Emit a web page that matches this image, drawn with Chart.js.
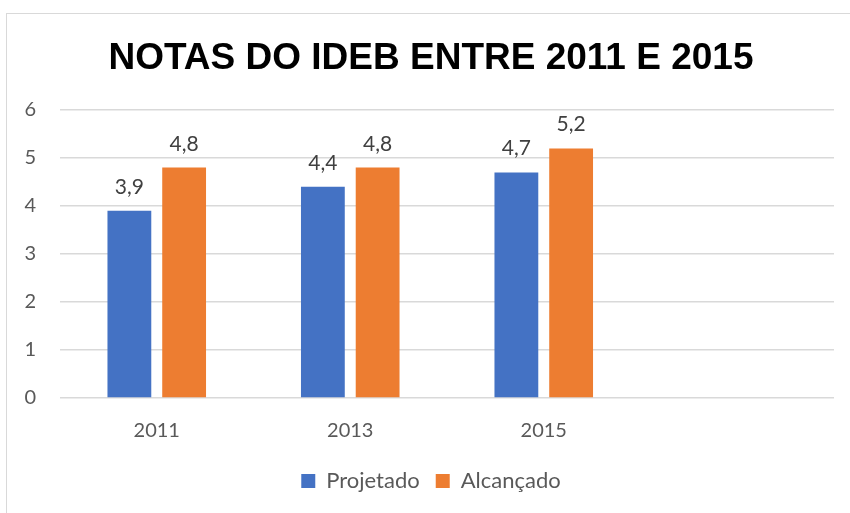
<!DOCTYPE html>
<html>
<head>
<meta charset="utf-8">
<script src="https://cdn.jsdelivr.net/npm/chart.js@4"></script>
<style>
    html, body { margin: 0; padding: 0; background: #fff; }
    #wrap { position: relative; width: 850px; height: 513px; overflow: hidden; }
    #frame { position: absolute; left: 6px; top: 13px; width: 900px; height: 600px; border-left: 1px solid #d9d9d9; border-top: 1px solid #d9d9d9; }
    #chart { position: absolute; left: 0; top: 0; }
</style>
</head>
<body>
<div id="wrap">
    <div id="frame"></div>
    <canvas id="chart" width="850" height="513"></canvas>
</div>
<script>
const TITLE = 'NOTAS DO IDEB ENTRE 2011 E 2015';
const categories = ['2011', '2013', '2015', ''];
const projetado = [3.9, 4.4, 4.7, null];
const alcancado = [4.8, 4.8, 5.2, null];
const yTicks = [0, 1, 2, 3, 4, 5, 6];

const TEXT_COLOR = '#595959';
const BODY_FONT = 'Lato, "Liberation Sans", sans-serif';

// value labels above the bars, with a comma as decimal mark
const valueLabels = {
    id: 'valueLabels',
    afterDatasetsDraw(chart) {
        const ctx = chart.ctx;
        ctx.save();
        ctx.font = '21px ' + BODY_FONT;
        ctx.fillStyle = '#404040';
        ctx.textAlign = 'center';
        ctx.textBaseline = 'alphabetic';
        chart.data.datasets.forEach((ds, i) => {
            chart.getDatasetMeta(i).data.forEach((bar, j) => {
                const v = ds.data[j];
                if (v === null || v === undefined) {
                    return;
                }
                ctx.fillText(v.toFixed(1).replace('.', ','), bar.x, bar.y - 17);
            });
        });
        ctx.restore();
    }
};

new Chart(document.getElementById('chart').getContext('2d'), {
    type: 'bar',
    data: {
        labels: categories,
        datasets: [
            { label: 'Projetado', data: projetado, backgroundColor: '#4472C4', categoryPercentage: 0.566, barPercentage: 0.8 },
            { label: 'Alcançado', data: alcancado, backgroundColor: '#ED7D31', categoryPercentage: 0.566, barPercentage: 0.8 }
        ]
    },
    options: {
        responsive: false,
        animation: false,
        layout: { padding: { left: 14, right: 2, top: 0, bottom: 11 } },
        plugins: {
            title: {
                display: true,
                text: TITLE,
                color: '#000',
                font: { family: '"Liberation Sans", Arial, sans-serif', size: 37, weight: 'bold', lineHeight: 1.0 },
                padding: { top: 40, bottom: 33 }
            },
            legend: {
                position: 'bottom',
                labels: {
                    color: TEXT_COLOR,
                    font: { family: BODY_FONT, size: 22 },
                    boxWidth: 14,
                    boxHeight: 14,
                    padding: 16
                }
            },
            tooltip: { enabled: false }
        },
        scales: {
            x: {
                afterFit(axis) {
                    axis.height = axis.height - 10;
                },
                grid: { display: false, drawTicks: false },
                border: { display: false },
                ticks: { color: TEXT_COLOR, font: { family: BODY_FONT, size: 20 }, padding: 21 }
            },
            y: {
                min: 0,
                max: 6,
                afterBuildTicks(axis) {
                    axis.ticks = yTicks.map((v) => ({ value: v }));
                },
                afterFit(axis) {
                    axis.width = 46;
                },
                grid: { color: '#d9d9d9', lineWidth: 1.5, drawTicks: false },
                border: { display: false },
                ticks: { color: TEXT_COLOR, font: { family: BODY_FONT, size: 20 }, padding: 24 }
            },
            // empty right-hand strip so the plot stops short of the frame edge
            yRight: {
                position: 'right',
                min: 0,
                max: 6,
                afterFit(axis) {
                    axis.width = 14;
                },
                grid: { display: false, drawTicks: false },
                border: { display: false },
                ticks: { display: false }
            }
        }
    },
    plugins: [valueLabels]
});
</script>
</body>
</html>
